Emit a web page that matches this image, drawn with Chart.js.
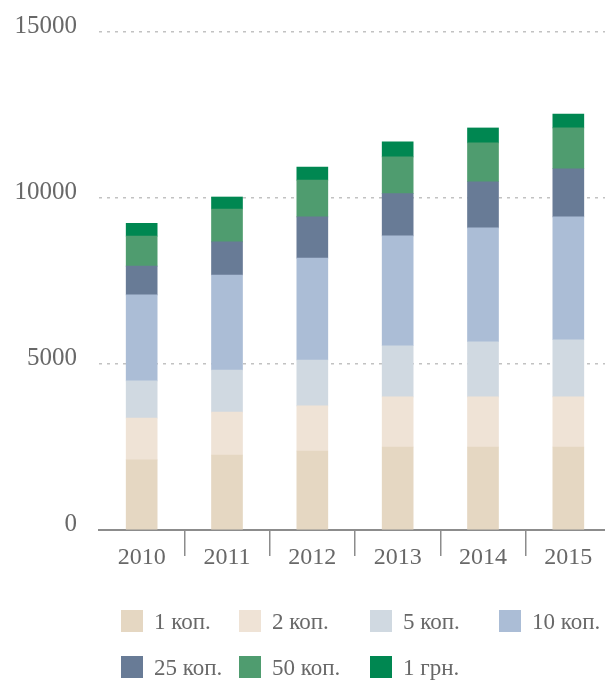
<!DOCTYPE html>
<html lang="uk">
<head>
    <meta charset="UTF-8">
    <title>Монети в обігу</title>
    <script src="https://cdn.jsdelivr.net/npm/chart.js"></script>
    <style>
        html, body { margin: 0; padding: 0; background: #fff; overflow: hidden; }
    </style>
</head>
<body>
    <canvas id="coinsChart" width="611" height="680"></canvas>

    <script>
        // Data (stacked, per denomination)
        const years = ['2010', '2011', '2012', '2013', '2014', '2015'];
        const labels = ['1 коп.', '2 коп.', '5 коп.', '10 коп.', '25 коп.', '50 коп.', '1 грн.'];
        const kop1 = [2110, 2260, 2380, 2500, 2500, 2500];
        const kop2 = [1260, 1290, 1360, 1510, 1510, 1510];
        const kop5 = [1120, 1270, 1380, 1540, 1660, 1720];
        const kop10 = [2590, 2860, 3070, 3310, 3430, 3700];
        const kop25 = [870, 1000, 1240, 1270, 1390, 1450];
        const kop50 = [900, 990, 1110, 1110, 1170, 1230];
        const hrn1 = [390, 360, 390, 450, 450, 420];
        const yTicks = [0, 5000, 10000, 15000];

        const series = [kop1, kop2, kop5, kop10, kop25, kop50, hrn1];
        const colors = ['#e5d7c2', '#efe3d6', '#d0d9e1', '#abbdd6', '#687b96', '#4f9c6f', '#008751'];
        const textColor = '#686868';
        const serif = 'Liberation Serif';

        // Legend drawn as a 4-column grid, like the original
        const gridLegend = {
            id: 'gridLegend',
            afterDraw(chart) {
                const ctx = chart.ctx;
                const cols = [121, 239, 370, 499];
                const rows = [610, 656];
                ctx.save();
                ctx.font = '23px "' + serif + '"';
                ctx.textBaseline = 'alphabetic';
                chart.data.datasets.forEach((ds, i) => {
                    const x = cols[i % 4];
                    const y = rows[Math.floor(i / 4)];
                    ctx.fillStyle = ds.backgroundColor;
                    ctx.fillRect(x, y, 22, 22);
                    ctx.fillStyle = textColor;
                    ctx.fillText(ds.label, x + 33, y + 18.5);
                });
                ctx.restore();
            }
        };

        const ctx = document.getElementById('coinsChart').getContext('2d');
        const coinsChart = new Chart(ctx, {
            type: 'bar',
            data: {
                labels: years,
                datasets: series.map((values, i) => ({
                    label: labels[i],
                    data: values,
                    backgroundColor: colors[i],
                    borderWidth: 0,
                    barThickness: 31
                }))
            },
            options: {
                responsive: false,
                animation: false,
                layout: { padding: { top: 32, bottom: 110, left: 0, right: 0 } },
                plugins: {
                    legend: { display: false },
                    tooltip: { enabled: false }
                },
                scales: {
                    x: {
                        stacked: true,
                        border: { display: true, color: '#8c8c8c', width: 2 },
                        grid: {
                            offset: true,
                            drawOnChartArea: false,
                            tickLength: 26,
                            lineWidth: 1.5,
                            color: c => c.index === 0 ? 'rgba(0,0,0,0)' : '#8c8c8c'
                        },
                        ticks: {
                            color: textColor,
                            font: { family: serif, size: 24 },
                            padding: -13,
                            maxRotation: 0,
                            autoSkip: false
                        },
                        afterFit: s => { s.height = 40; }
                    },
                    y: {
                        stacked: true,
                        min: yTicks[0],
                        max: yTicks[yTicks.length - 1],
                        afterBuildTicks: s => { s.ticks = yTicks.map(v => ({ value: v })); },
                        border: { display: false, dash: [3, 5] },
                        grid: {
                            drawTicks: true,
                            tickLength: 20,
                            tickColor: 'rgba(0,0,0,0)',
                            lineWidth: 1.5,
                            color: c => c.tick && c.tick.value === 0 ? 'rgba(0,0,0,0)' : '#c2c2c2'
                        },
                        ticks: {
                            color: textColor,
                            font: { family: serif, size: 25 },
                            padding: 2,
                            labelOffset: -6,
                            callback: v => String(v)
                        },
                        afterFit: s => { s.width = 99; }
                    }
                }
            },
            plugins: [gridLegend]
        });
    </script>
</body>
</html>
